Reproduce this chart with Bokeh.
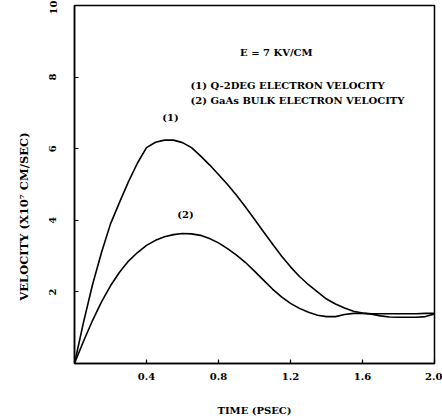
from bokeh.plotting import figure
from bokeh.models import Range1d, FixedTicker, Label, NumeralTickFormatter
from bokeh.embed import file_html
from bokeh.resources import INLINE

# time in picoseconds
time_ps = [0.00, 0.05, 0.10, 0.15, 0.20, 0.25, 0.30, 0.35, 0.40, 0.45,
           0.50, 0.55, 0.60, 0.65, 0.70, 0.75, 0.80, 0.85, 0.90, 0.95,
           1.00, 1.05, 1.10, 1.15, 1.20, 1.25, 1.30, 1.35, 1.40, 1.45,
           1.50, 1.55, 1.60, 1.65, 1.70, 1.75, 1.80, 1.85, 1.90, 1.95, 2.00]

# (1) Q-2DEG electron velocity (x10^7 cm/s)
v_q2deg = [0.00, 1.15, 2.20, 3.10, 3.90, 4.50, 5.08, 5.60, 6.03, 6.18,
           6.24, 6.24, 6.17, 6.03, 5.80, 5.55, 5.28, 5.00, 4.70, 4.37,
           4.03, 3.68, 3.34, 3.00, 2.70, 2.43, 2.20, 2.00, 1.80, 1.66,
           1.55, 1.46, 1.41, 1.39, 1.39, 1.39, 1.39, 1.39, 1.39, 1.40, 1.40]

# (2) GaAs bulk electron velocity (x10^7 cm/s)
v_bulk = [0.00, 0.62, 1.20, 1.72, 2.17, 2.55, 2.86, 3.10, 3.30, 3.44,
          3.54, 3.60, 3.63, 3.62, 3.58, 3.49, 3.37, 3.21, 3.03, 2.82,
          2.58, 2.33, 2.08, 1.86, 1.68, 1.54, 1.43, 1.35, 1.31, 1.31,
          1.37, 1.40, 1.40, 1.38, 1.33, 1.30, 1.29, 1.29, 1.29, 1.31, 1.38]

x_ticks = [0.4, 0.8, 1.2, 1.6, 2.0]
y_ticks = [2, 4, 6, 8, 10]

FONT = "DejaVu Serif"

p = figure(width=442, height=419, output_backend="svg", toolbar_location=None,
           x_range=Range1d(0, 2.0), y_range=Range1d(0, 10),
           min_border_left=74, min_border_right=8, min_border_top=5,
           min_border_bottom=56)
p.background_fill_color = "white"
p.border_fill_color = "white"
p.outline_line_color = "black"
p.outline_line_width = 1.5
p.grid.visible = False

for ax in (p.xaxis, p.yaxis):
    ax.axis_line_color = "black"
    ax.axis_line_width = 1.5
    ax.major_tick_in = 4
    ax.major_tick_out = 0
    ax.major_tick_line_width = 1.2
    ax.minor_tick_line_color = None
    ax.major_label_text_font = FONT
    ax.major_label_text_font_style = "bold"
    ax.major_label_text_font_size = "10px"
    ax.major_label_text_color = "black"
    ax.axis_label_text_font = FONT
    ax.axis_label_text_font_style = "bold"
    ax.axis_label_text_font_size = "10px"
    ax.axis_label_text_color = "black"

p.xaxis.ticker = FixedTicker(ticks=x_ticks)
p.xaxis.formatter = NumeralTickFormatter(format="0.0")
p.yaxis.ticker = FixedTicker(ticks=y_ticks)
p.xaxis.major_label_standoff = 9
p.xaxis.axis_label = "TIME (PSEC)"
p.xaxis.axis_label_standoff = 22
p.yaxis.major_label_orientation = "vertical"
p.yaxis.major_label_standoff = 18
# trailing no-break spaces push the title a little below the frame centre, as in the original
p.yaxis.axis_label = "VELOCITY (X10\u2077 CM/SEC)" + "\u00a0" * 16
p.yaxis.axis_label_text_font_size = "11.5px"
p.yaxis.axis_label_standoff = 16

p.line(time_ps, v_q2deg, line_color="black", line_width=1.6)
p.line(time_ps, v_bulk, line_color="black", line_width=1.6)

def add_text(x, y, txt, align="left"):
    p.add_layout(Label(x=x, y=y, text=txt, text_font=FONT, text_font_style="bold",
                       text_font_size="10px", text_color="black",
                       text_align=align, text_baseline="middle"))

add_text(0.92, 8.69, "E = 7 KV/CM")
add_text(0.645, 7.77, "(1) Q-2DEG ELECTRON VELOCITY")
add_text(0.645, 7.35, "(2) GaAs BULK ELECTRON VELOCITY")
add_text(0.533, 6.87, "(1)", align="center")
add_text(0.617, 4.16, "(2)", align="center")

open("out.html", "w").write(file_html(p, INLINE))
